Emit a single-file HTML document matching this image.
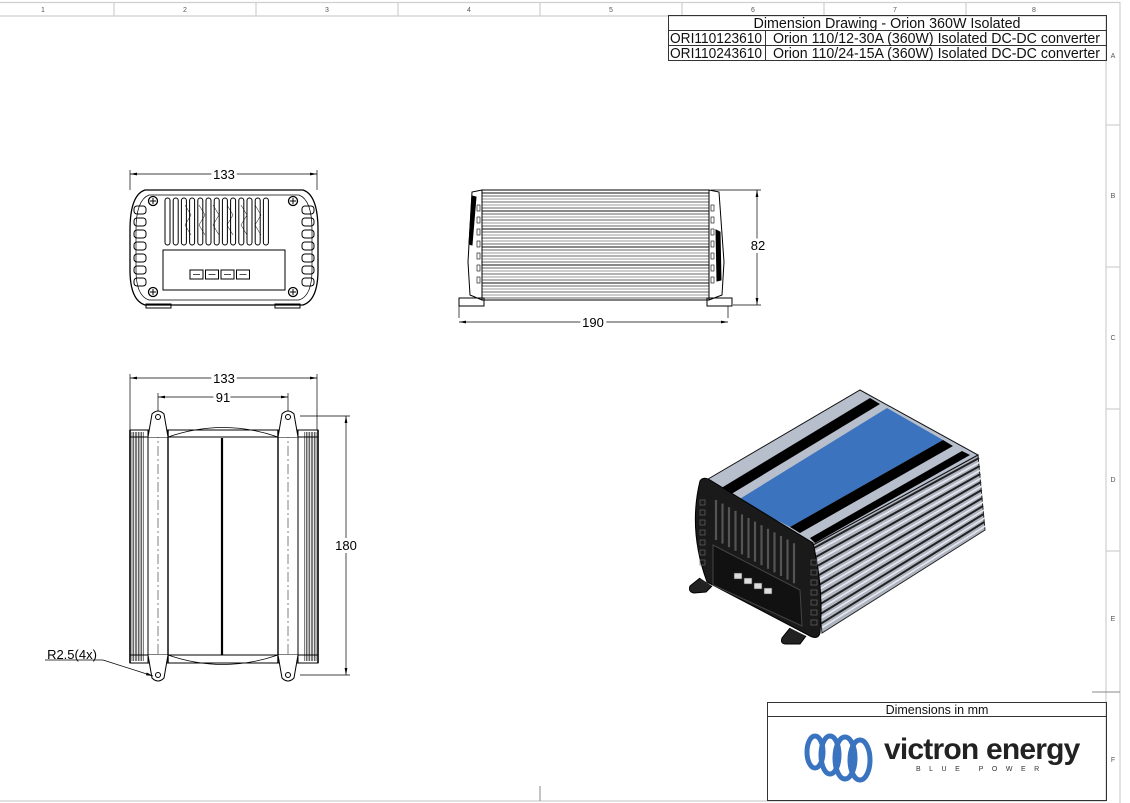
<!DOCTYPE html>
<html><head><meta charset="utf-8"><style>
html,body{margin:0;padding:0;background:#fff;}
svg{display:block;font-family:"Liberation Sans",sans-serif;}
</style></head><body>
<svg id="s" width="1130" height="803" viewBox="0 0 1130 803" xmlns="http://www.w3.org/2000/svg">
<defs>
<marker id="ar" viewBox="0 0 10 6" refX="10" refY="3" markerWidth="10" markerHeight="6" orient="auto-start-reverse"><path d="M0,1 L10,3 L0,5z" fill="#000"/></marker>
</defs>
<g stroke="#cfcfcf" stroke-width="1.2" fill="none">
<line x1="0" y1="2.5" x2="1120" y2="2.5"/>
<line x1="0" y1="16" x2="1106" y2="16"/>
<line x1="1106" y1="16" x2="1106" y2="801"/>
<line x1="1120" y1="2" x2="1120" y2="803"/>
<line x1="0" y1="801" x2="1106" y2="801"/>
<line x1="114" y1="3" x2="114" y2="16"/><line x1="256" y1="3" x2="256" y2="16"/><line x1="398" y1="3" x2="398" y2="16"/><line x1="540" y1="3" x2="540" y2="16"/><line x1="682" y1="3" x2="682" y2="16"/><line x1="824" y1="3" x2="824" y2="16"/><line x1="966" y1="3" x2="966" y2="16"/>
<line x1="1106" y1="125" x2="1120" y2="125"/><line x1="1106" y1="267" x2="1120" y2="267"/><line x1="1106" y1="409" x2="1120" y2="409"/><line x1="1106" y1="551" x2="1120" y2="551"/>
</g>
<line x1="1092" y1="692" x2="1120" y2="692" stroke="#888" stroke-width="1"/>
<line x1="540" y1="786" x2="540" y2="801" stroke="#888"/>
<g font-size="7" fill="#555" text-anchor="middle">
<text x="43" y="12">1</text><text x="185" y="12">2</text><text x="327" y="12">3</text><text x="469" y="12">4</text><text x="611" y="12">5</text><text x="753" y="12">6</text><text x="895" y="12">7</text><text x="1034" y="12">8</text>
<text x="1113" y="58">A</text><text x="1113" y="198">B</text><text x="1113" y="340">C</text><text x="1113" y="482">D</text><text x="1113" y="621">E</text><text x="1113" y="762">F</text>
</g>
<g stroke="#333" stroke-width="1" fill="none">
<rect x="668.5" y="15.5" width="438" height="45"/>
<line x1="668" y1="30.5" x2="1106" y2="30.5"/><line x1="668" y1="45.5" x2="1106" y2="45.5"/>
<line x1="765.5" y1="31" x2="765.5" y2="60"/>
</g>
<g font-size="14.3" fill="#111">
<text x="887" y="28" text-anchor="middle">Dimension Drawing - Orion 360W Isolated</text>
<text x="670" y="43" textLength="92" lengthAdjust="spacingAndGlyphs">ORI110123610</text><text x="773" y="43" textLength="327" lengthAdjust="spacingAndGlyphs">Orion 110/12-30A (360W) Isolated DC-DC converter</text>
<text x="670" y="58" textLength="92" lengthAdjust="spacingAndGlyphs">ORI110243610</text><text x="773" y="58" textLength="327" lengthAdjust="spacingAndGlyphs">Orion 110/24-15A (360W) Isolated DC-DC converter</text>
</g>

<g id="draw" stroke="#000" fill="none" stroke-width="1"></g>

<g font-size="13" fill="#000" text-anchor="middle">
<text x="224" y="179" style="paint-order:stroke" stroke="#fff" stroke-width="6">133</text>
<text x="224" y="383" style="paint-order:stroke" stroke="#fff" stroke-width="6">133</text>
<text x="223" y="402" style="paint-order:stroke" stroke="#fff" stroke-width="6">91</text>
<text x="346" y="550" style="paint-order:stroke" stroke="#fff" stroke-width="6">180</text>
<text x="758" y="250" style="paint-order:stroke" stroke="#fff" stroke-width="6">82</text>
<text x="593" y="327" style="paint-order:stroke" stroke="#fff" stroke-width="6">190</text>
<text x="72" y="659">R2.5(4x)</text>
</g>

<rect x="767.5" y="702.5" width="339" height="98" fill="none" stroke="#333"/>
<line x1="767" y1="716.5" x2="1106" y2="716.5" stroke="#333"/>
<text x="937" y="714" font-size="12.5" text-anchor="middle" fill="#111">Dimensions in mm</text>
<g fill="none" stroke="#3a73c0" stroke-width="5" stroke-linecap="round">
<ellipse cx="815" cy="752" rx="8" ry="16"/>
<ellipse cx="830" cy="755" rx="9" ry="19"/>
<ellipse cx="845" cy="758" rx="10" ry="21"/>
<ellipse cx="860" cy="760" rx="10" ry="20"/>
</g>
<text x="884" y="759" font-size="30" font-weight="bold" fill="#222" letter-spacing="-0.8">victron energy</text>
<text x="916" y="771" font-size="7" fill="#333" letter-spacing="8.5">BLUE POWER</text>
</svg>
<script>
var g=document.getElementById('draw'),NS='http://www.w3.org/2000/svg';
function el(t,a,p){var e=document.createElementNS(NS,t);for(var k in a)e.setAttribute(k,a[k]);(p||g).appendChild(e);return e;}
function L(x1,y1,x2,y2,a){var o={x1:x1,y1:y1,x2:x2,y2:y2};for(var k in a)o[k]=a[k];return el('line',o);}
function R(x,y,w,h,a){var o={x:x,y:y,width:w,height:h};for(var k in a)o[k]=a[k];return el('rect',o);}
function P(d,a){var o={d:d};for(var k in a)o[k]=a[k];return el('path',o);}
var thin={'stroke-width':0.7};
function dimH(x1,x2,y,ext1,ext2){L(x1,y,x2,y,{'stroke-width':0.7,'marker-start':'url(#ar)','marker-end':'url(#ar)'});L(x1,ext1,x1,y-4,thin);L(x2,ext2,x2,y-4,thin);}
function dimV(y1,y2,x,e1,e2){L(x,y1,x,y2,{'stroke-width':0.7,'marker-start':'url(#ar)','marker-end':'url(#ar)'});L(e1,y1,x+4,y1,thin);L(e2,y2,x+4,y2,thin);}

// front view
dimH(130,317,174,190,190);
P('M145,190 L303,190 Q318,195 318,230 L318,270 Q318,300 303,305 L145,305 Q130,300 130,270 L130,230 Q130,195 145,190Z',{'stroke-width':1.3});
P('M149,195 L299,195 Q312,200 312,230 L312,270 Q312,296 299,300 L149,300 Q136,296 136,270 L136,230 Q136,200 149,195Z',thin);
for(var i=0;i<13;i++){var x=165+i*8.2;R(x,198,5,47,{rx:2.5});}
for(var i=0;i<7;i++){R(134,206+i*12,12,8,{rx:3});R(302,206+i*12,12,8,{rx:3});}
R(163,250,122,40,{});
for(var i=0;i<4;i++){R(190+i*15.5,270,13,9,{});L(193+i*15.5,274.5,200+i*15.5,274.5,thin);}
[[153,201],[293,201],[153,292],[293,292]].forEach(function(c){el('circle',{cx:c[0],cy:c[1],r:4.5,'stroke-width':1.3});L(c[0]-3,c[1],c[0]+3,c[1]);L(c[0],c[1]-3,c[0],c[1]+3);});
R(146,304,25,4,{});R(275,304,25,4,{});
for(var i=0;i<6;i++)P('M'+(185+i*14)+',205 l6,10 l-6,10 l6,10',{'stroke-width':0.5});

// side view
dimV(190,305,757,711,733);
dimH(459,728,322,306,306);
R(482,190,227,110,{});
for(var i=0;i<36;i++){var y=193+i*3;L(482,y,709,y,{'stroke-width':(i%6==0?1.8:0.8),stroke:(i%2?'#333':'#777')});}
P('M482,190 L472,192 L468,262 L470,295 L482,300Z',{});
P('M709,190 L719,192 L724,262 L722,295 L709,300Z',{});
P('M472,196 L476,197 L472,245 L469,244Z',{fill:'#000'});
P('M716,230 L720,232 L721,280 L717,281Z',{fill:'#000'});
for(var i=0;i<7;i++){R(477,205+i*12,3,6,{'stroke-width':0.6});R(711,205+i*12,3,6,{'stroke-width':0.6});}
R(459,298,25,8,{});R(707,298,25,8,{});

// top view
dimH(130,317,378,430,430);
dimH(158,288,397,420,420);
dimV(416,675,346,300,300);
R(130,430,188,233,{});
L(130,430,130,663,{'stroke-width':1.6});L(318,430,318,663,{'stroke-width':1.6});
for(var k=0;k<8;k++){L(132+k*1.6,432,132+k*1.6,661,{'stroke-width':0.6});L(316-k*1.6,432,316-k*1.6,661,{'stroke-width':0.6});}
L(148,430,148,663);L(168,430,168,663,{'stroke-width':1.4});L(278,430,278,663,{'stroke-width':1.4});L(298,430,298,663);
L(222,438,222,655,{'stroke-width':2.2});
L(130,437,318,437);L(130,655,318,655);
P('M168,437 Q223,418 278,437',thin);P('M168,655 Q223,674 278,655',thin);
[158,288].forEach(function(x){
 L(x,410,x,680,{'stroke-width':0.5,'stroke-dasharray':'10,3,2,3'});
 P('M'+(x-10)+',437 L'+(x-6)+',414 Q'+x+',408 '+(x+6)+',414 L'+(x+10)+',437',{fill:'#fff'});
 P('M'+(x-10)+',655 L'+(x-6)+',678 Q'+x+',684 '+(x+6)+',678 L'+(x+10)+',655',{fill:'#fff'});
 el('circle',{cx:x,cy:417,r:2.5});el('circle',{cx:x,cy:675,r:2.5});
});
L(45,660,103,660,thin);L(103,660,153,676,{'stroke-width':0.7,'marker-end':'url(#ar)'});

// iso view
var iso=el('g',{});
P('M813,545 L978,455 L985,530 L822,633Z',{fill:'#aeb4c0',stroke:'#222'},iso);
for(var i=0;i<9;i++){var t=i/9;P('M'+(814+8*t)+','+(548+85*t)+' L'+(979+6*t)+','+(458+72*t),{stroke:'#222','stroke-width':2},iso);
 P('M'+(815+8*t)+','+(552+85*t)+' L'+(980+6*t)+','+(462+72*t),{stroke:'#e6e8ee','stroke-width':1.6},iso);}
P('M703,482 L860,390 L978,455 L813,545Z',{fill:'#b8bfcc',stroke:'#111'},iso);
P('M718,490 L870,398 L880,404 L728,496Z',{fill:'#000',stroke:'none'},iso);
P('M738,500 L887,408 L943,440 L790,527Z',{fill:'#3b73be',stroke:'none'},iso);
P('M790,527 L943,440 L953,446 L800,533Z',{fill:'#000',stroke:'none'},iso);
P('M810,538 L962,451 L970,455 L815,543Z',{fill:'#000',stroke:'none'},iso);
P('M700,481 Q703,476 710,480 L813,543 Q824,590 820,633 Q818,640 810,636 L707,582 Q688,530 700,481Z',{fill:'#1a1a1a',stroke:'#000'},iso);
for(var i=0;i<13;i++){var x=716+i*6.5;P('M'+x+','+(500+i*3.6)+' l0,'+40,{stroke:'#555','stroke-width':2.2},iso);}
P('M713,545 L800,590 L802,626 L713,585Z',{fill:'#111',stroke:'#444'},iso);
for(var i=0;i<4;i++)R(734+i*10,573+i*5,8,6,{fill:'#ddd',stroke:'#333','stroke-width':0.6},iso);
for(var i=0;i<7;i++){R(700,500+i*10,5,5,{fill:'none',stroke:'#666','stroke-width':0.7},iso);R(811,560+i*10,6,5,{fill:'none',stroke:'#666','stroke-width':0.7},iso);}
P('M700,578 L690,586 Q688,592 694,593 L706,592 L712,586',{fill:'#222',stroke:'#000'},iso);
P('M790,628 L782,638 Q780,644 786,644 L800,644 L806,636',{fill:'#222',stroke:'#000'},iso);
</script>
</body></html>
